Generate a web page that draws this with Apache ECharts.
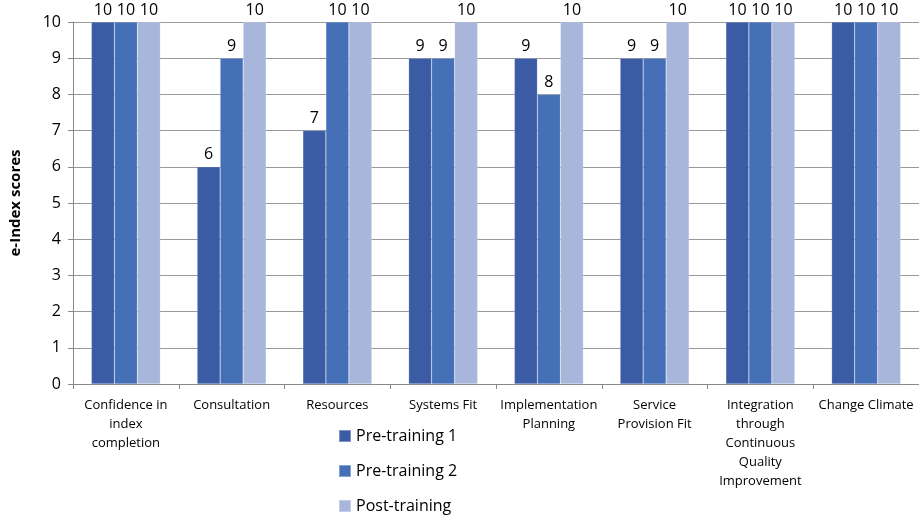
<!DOCTYPE html>
<html>
<head>
<meta charset="utf-8">
<script src="https://cdn.jsdelivr.net/npm/echarts@6/dist/echarts.min.js"></script>
<style>
  html, body { margin: 0; padding: 0; background: #fff; }
  #chart { width: 919px; height: 516px; }
</style>
</head>
<body>
<div id="chart"></div>
<script>
var categories = [
    'Confidence in\nindex\ncompletion',
    'Consultation',
    'Resources',
    'Systems Fit',
    'Implementation\nPlanning',
    'Service\nProvision Fit',
    'Integration\nthrough\nContinuous\nQuality\nImprovement',
    'Change Climate'
];
var pre1 = [10, 6, 7, 9, 9, 9, 10, 10];
var pre2 = [10, 9, 10, 9, 8, 9, 10, 10];
var post = [10, 10, 10, 10, 10, 10, 10, 10];
var yTicks = [0, 1, 2, 3, 4, 5, 6, 7, 8, 9, 10];

var chart = echarts.init(document.getElementById('chart'));
var font = '"Open Sans", "Liberation Sans", sans-serif';

function makeSeries(name, data, color) {
    return {
        name: name,
        type: 'bar',
        data: data,
        barWidth: 23,
        barGap: '0%',
        itemStyle: { color: color, borderColor: 'rgba(255,255,255,0.35)', borderWidth: 0.5 },
        label: {
            show: true,
            position: 'top',
            distance: 4,
            color: '#000',
            fontSize: 16,
            fontFamily: font
        }
    };
}

var option = {
    animation: false,
    textStyle: { fontFamily: font },
    grid: { left: 73, right: 0, top: 22, bottom: 132 },
    legend: {
        orient: 'vertical',
        left: 338,
        top: 428,
        height: 120,
        padding: 0,
        itemWidth: 12,
        itemHeight: 12,
        itemGap: 19,
        icon: 'rect',
        textStyle: { fontSize: 16, color: '#000', fontFamily: font },
        data: ['Pre-training 1', 'Pre-training 2', 'Post-training']
    },
    xAxis: {
        type: 'category',
        data: categories,
        axisLine: { lineStyle: { color: '#888' } },
        axisTick: { show: true, alignWithLabel: false, length: 5, lineStyle: { color: '#888' } },
        axisLabel: {
            color: '#000',
            fontSize: 13,
            lineHeight: 19,
            margin: 12,
            interval: 0,
            fontFamily: font
        }
    },
    yAxis: {
        type: 'value',
        min: yTicks[0],
        max: yTicks[yTicks.length - 1],
        interval: 1,
        name: 'e-Index scores',
        nameLocation: 'middle',
        nameGap: 50,
        nameRotate: 90,
        nameTextStyle: { fontSize: 15, fontWeight: 'bold', color: '#000', fontFamily: font },
        axisLine: { show: true, lineStyle: { color: '#888' } },
        axisTick: { show: true, length: 5, lineStyle: { color: '#888' } },
        axisLabel: { color: '#000', fontSize: 16, margin: 12, fontFamily: font },
        splitLine: { lineStyle: { color: '#999' } }
    },
    series: [
        makeSeries('Pre-training 1', pre1, '#3B5CA4'),
        makeSeries('Pre-training 2', pre2, '#4570B8'),
        makeSeries('Post-training', post, '#A8B6DC')
    ]
};

chart.setOption(option);
</script>
</body>
</html>
